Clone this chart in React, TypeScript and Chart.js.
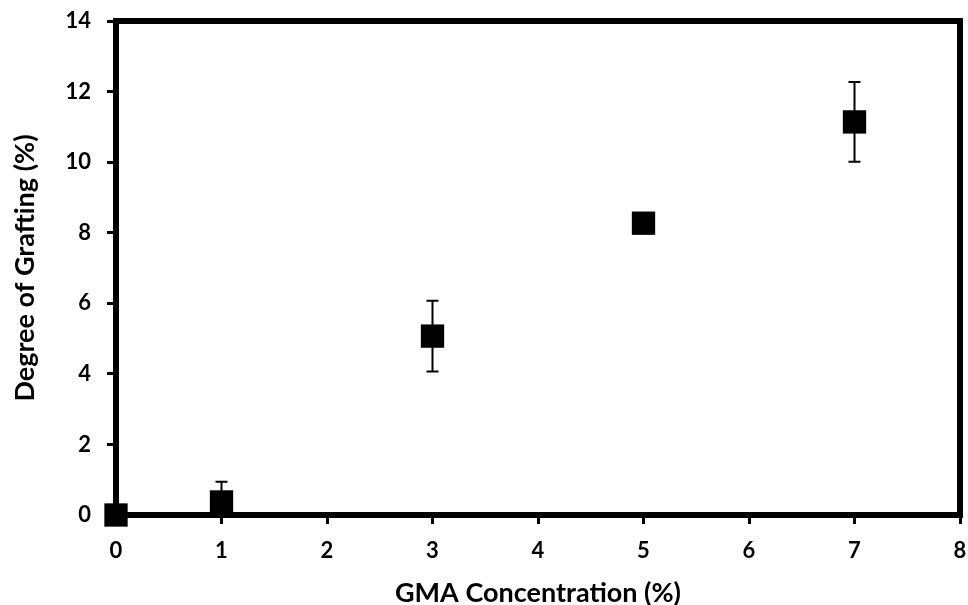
import React, { useEffect, useRef } from "react";
import { Chart, registerables } from "chart.js";

Chart.register(...registerables);

const concentrations = [0, 1, 3, 5, 7];
const grafting = [0, 0.37, 5.07, 8.27, 11.14];
const errors = [0, 0.57, 1.0, 0, 1.13];
const xTicks = [0, 1, 2, 3, 4, 5, 6, 7, 8];
const yTicks = [0, 2, 4, 6, 8, 10, 12, 14];

const FONT = "Lato, Calibri, 'Open Sans', sans-serif";

const errorBarPlugin = {
  id: "errorBars",
  beforeDatasetsDraw(chart: any) {
    const { ctx, scales, chartArea } = chart;
    const xs = scales.x;
    const ys = scales.y;
    ctx.save();
    ctx.beginPath();
    ctx.rect(chartArea.left - 20, chartArea.top - 20, chartArea.right - chartArea.left + 40, chartArea.bottom - chartArea.top + 20);
    ctx.clip();
    ctx.strokeStyle = "#000";
    ctx.lineWidth = 2;
    concentrations.forEach((c, i) => {
      const e = errors[i];
      if (!e) return;
      const px = xs.getPixelForValue(c);
      const top = ys.getPixelForValue(grafting[i] + e);
      const bot = ys.getPixelForValue(grafting[i] - e);
      ctx.beginPath();
      ctx.moveTo(px, top);
      ctx.lineTo(px, bot);
      ctx.moveTo(px - 6, top);
      ctx.lineTo(px + 6, top);
      ctx.moveTo(px - 6, bot);
      ctx.lineTo(px + 6, bot);
      ctx.stroke();
    });
    ctx.restore();
  },
};

const framePlugin = {
  id: "frame",
  afterDraw(chart: any) {
    const { ctx, chartArea } = chart;
    ctx.save();
    ctx.strokeStyle = "#000";
    ctx.lineWidth = 6;
    ctx.beginPath();
    ctx.moveTo(chartArea.left - 3, chartArea.top);
    ctx.lineTo(chartArea.right, chartArea.top);
    ctx.lineTo(chartArea.right, chartArea.bottom + 3);
    ctx.stroke();
    ctx.restore();
  },
};

const zeroPad = (s: any) => {
  s.paddingLeft = 0;
  s.paddingRight = 0;
  s.paddingTop = 0;
  s.paddingBottom = 0;
};

export default function App() {
  const ref = useRef<HTMLCanvasElement>(null);
  useEffect(() => {
    if (!ref.current) return;
    const chart = new Chart(ref.current, {
      type: "scatter",
      data: {
        datasets: [
          {
            data: concentrations.map((c, i) => ({ x: c, y: grafting[i] })),
            pointStyle: "rect",
            pointRadius: 16.5,
            pointHoverRadius: 16.5,
            backgroundColor: "#000",
            borderColor: "#000",
            borderWidth: 0,
            clip: false as any,
          },
        ],
      },
      options: {
        responsive: false,
        animation: false,
        events: [],
        layout: { autoPadding: false, padding: { left: 0, top: 21, right: 8, bottom: 0 } },
        plugins: { legend: { display: false }, tooltip: { enabled: false } },
        scales: {
          x: {
            type: "linear",
            min: 0,
            max: 8,
            afterFit: (s: any) => {
              s.height = 90;
              zeroPad(s);
            },
            afterBuildTicks: (s: any) => {
              s.ticks = xTicks.map((v) => ({ value: v }));
            },
            ticks: {
              color: "#000",
              padding: 14,
              font: { family: FONT, size: 22, weight: "bold" },
              maxRotation: 0,
            },
            grid: {
              drawOnChartArea: false,
              drawTicks: true,
              tickLength: 9,
              tickWidth: 3,
              tickColor: "#000",
            },
            border: { display: true, color: "#000", width: 6 },
            title: {
              display: true,
              text: "GMA Concentration (%)",
              color: "#000",
              font: { family: FONT, size: 27, weight: "bold", lineHeight: 0.9 },
              padding: { top: 0, bottom: 0 },
            },
          },
          y: {
            type: "linear",
            min: 0,
            max: 14,
            afterFit: (s: any) => {
              s.width = 116;
              zeroPad(s);
            },
            afterBuildTicks: (s: any) => {
              s.ticks = yTicks.map((v) => ({ value: v }));
            },
            ticks: {
              color: "#000",
              padding: 16,
              font: { family: FONT, size: 22, weight: "bold" },
            },
            grid: {
              drawOnChartArea: false,
              drawTicks: true,
              tickLength: 9,
              tickWidth: 3,
              tickColor: "#000",
            },
            border: { display: true, color: "#000", width: 6 },
            title: {
              display: true,
              text: "Degree of Grafting (%)",
              color: "#000",
              font: { family: FONT, size: 27, weight: "bold", lineHeight: 0.9 },
              padding: { top: 13, bottom: 0 },
            },
          },
        },
      },
      plugins: [errorBarPlugin, framePlugin],
    });
    return () => chart.destroy();
  }, []);
  return (
    <div style={{ position: "fixed", left: 0, top: 0, width: 968, height: 605, background: "#fff" }}>
      <canvas ref={ref} width={968} height={605} style={{ width: 968, height: 605 }} />
    </div>
  );
}
